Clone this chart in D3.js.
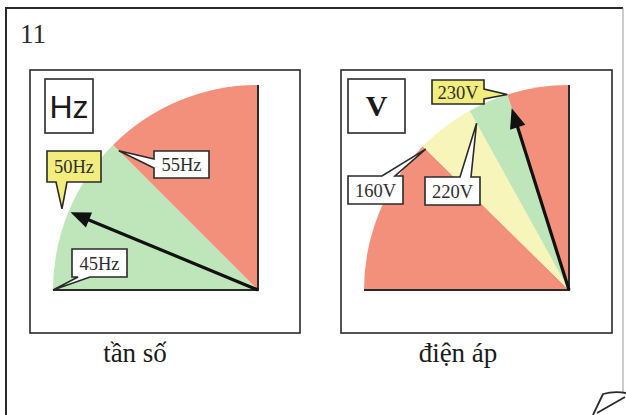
<!DOCTYPE html>
<html>
<head>
<meta charset="utf-8">
<script src="https://cdn.jsdelivr.net/npm/d3@7/dist/d3.min.js"></script>
<style>
  html, body { margin: 0; padding: 0; background: #fff; }
  svg { display: block; }
</style>
</head>
<body>
<svg id="chart" width="626" height="415"></svg>
<script>
// ---- data ----
const figureNumber = "11";

// frequency gauge (Hz)
const hzStops = [45, 55, 65];
const hzZones = ["normal", "high"];
const hzLabels = [45, 50, 55];
const hzNeedle = 50;
const hzUnit = "Hz";
const hzCaption = "tần số";

// voltage gauge (V)
const voltStops = [0, 160, 220, 230, 250];
const voltZones = ["high", "caution", "normal", "high"];
const voltLabels = [160, 220, 230];
const voltNeedle = 230;
const voltUnit = "V";
const voltCaption = "điện áp";

// ---- styles ----
const zoneColor = { normal: "#bfe6bb", high: "#f2907c", caution: "#f8f5ba" };
const ink = "#2a2a2a";
const calloutYellow = "#f3ed7d";
const serif = "'Liberation Serif', 'DejaVu Serif', serif";
const sans = "'Liberation Sans', Arial, sans-serif";

const svg = d3.select("#chart");
const deg = Math.PI / 180;

// outer page frame
svg.append("path")
  .attr("d", "M6,415 V8 H623")
  .attr("fill", "none").attr("stroke", ink).attr("stroke-width", 2);
svg.append("path")
  .attr("d", "M623,8 V392")
  .attr("fill", "none").attr("stroke", "#9a9a9a").attr("stroke-width", 1);
// curled page corner
svg.append("path")
  .attr("d", "M593,415 L603,394 Q614,391 626,393 M625,397 L597,413")
  .attr("fill", "none").attr("stroke", ink).attr("stroke-width", 1.8)
  .attr("stroke-linejoin", "round");

svg.append("text")
  .attr("x", 20).attr("y", 43)
  .attr("font-family", serif).attr("font-size", 27).attr("fill", ink)
  .text(figureNumber);

// callout: box with a pointed tail on one side
function calloutPath(b, side, base, tip) {
  const x = b.x, y = b.y, w = b.w, h = b.h;
  const [tx, ty] = tip;
  if (side === "bottom")
    return `M${x},${y}H${x + w}V${y + h}H${base[1]}L${tx},${ty}L${base[0]},${y + h}H${x}Z`;
  if (side === "top")
    return `M${x},${y}H${base[0]}L${tx},${ty}L${base[1]},${y}H${x + w}V${y + h}H${x}Z`;
  if (side === "left")
    return `M${x},${y}H${x + w}V${y + h}H${x}V${base[1]}L${tx},${ty}L${x},${base[0]}Z`;
  return `M${x},${y}H${x + w}V${base[0]}L${tx},${ty}L${x + w},${base[1]}V${y + h}H${x}Z`;
}

function drawGauge(cfg) {
  const g = svg.append("g");
  const { cx, cy, r } = cfg;

  // panel frame
  g.append("rect")
    .attr("x", cfg.panel.x).attr("y", cfg.panel.y)
    .attr("width", cfg.panel.w).attr("height", cfg.panel.h)
    .attr("fill", "#fff").attr("stroke", ink).attr("stroke-width", 1.6);

  const gauge = g.append("g").attr("transform", `translate(${cx},${cy})`);
  const arc = d3.arc().innerRadius(0).outerRadius(r);

  // zone sectors
  const zones = cfg.zones.map((z, i) => ({
    zone: z,
    startAngle: cfg.scale(cfg.stops[i]),
    endAngle: cfg.scale(cfg.stops[i + 1])
  }));
  gauge.selectAll("path.zone").data(zones).join("path")
    .attr("class", "zone")
    .attr("d", arc)
    .attr("fill", d => zoneColor[d.zone]);

  // quarter edges
  const a0 = cfg.scale(cfg.stops[0]);
  const a1 = cfg.scale(cfg.stops[cfg.stops.length - 1]);
  const p0 = d3.pointRadial(a0, r), p1 = d3.pointRadial(a1, r);
  gauge.append("path")
    .attr("d", `M${p0[0]},${p0[1]}L0,0L${p1[0]},${p1[1]}`)
    .attr("fill", "none").attr("stroke", ink).attr("stroke-width", 2);

  // needle
  const na = cfg.scale(cfg.needle);
  const len = r * cfg.needleLen;
  const head = 20, half = 8;
  const dir = d3.pointRadial(na, 1);
  const nx = [dir[1] * -1, dir[0]];
  const tip = [dir[0] * len, dir[1] * len];
  const baseC = [dir[0] * (len - head), dir[1] * (len - head)];
  gauge.append("line")
    .attr("x1", 0).attr("y1", 0)
    .attr("x2", baseC[0] + dir[0] * 4).attr("y2", baseC[1] + dir[1] * 4)
    .attr("stroke", "#111").attr("stroke-width", 3.2);
  gauge.append("path")
    .attr("d", `M${tip[0]},${tip[1]}L${baseC[0] + nx[0] * half},${baseC[1] + nx[1] * half}L${baseC[0] - nx[0] * half},${baseC[1] - nx[1] * half}Z`)
    .attr("fill", "#111");

  // value callouts
  cfg.labels.forEach((v, i) => {
    const c = cfg.callouts[i];
    const t = d3.pointRadial(cfg.scale(v), r * c.reach);
    const tipAbs = [cx + t[0], cy + t[1]];
    g.append("path")
      .attr("d", calloutPath(c.box, c.side, c.base, tipAbs))
      .attr("fill", c.fill || "#fff")
      .attr("stroke", ink).attr("stroke-width", 1.6)
      .attr("stroke-linejoin", "miter");
    g.append("text")
      .attr("x", c.box.x + c.box.w / 2)
      .attr("y", c.box.y + c.box.h / 2 + 6.5)
      .attr("text-anchor", "middle")
      .attr("font-family", serif).attr("font-size", 18.5).attr("fill", "#2e2e2e")
      .text(v + cfg.unit);
  });

  // unit box
  g.append("rect")
    .attr("x", cfg.unitBox.x).attr("y", cfg.unitBox.y)
    .attr("width", cfg.unitBox.w).attr("height", cfg.unitBox.h)
    .attr("fill", "#fff").attr("stroke", ink).attr("stroke-width", 1.6);
  g.append("text")
    .attr("x", cfg.unitBox.x + cfg.unitBox.w / 2)
    .attr("y", cfg.unitBox.y + cfg.unitBox.h / 2 + cfg.unitFont.dy)
    .attr("text-anchor", "middle")
    .attr("font-family", cfg.unitFont.family)
    .attr("font-size", cfg.unitFont.size)
    .attr("font-weight", cfg.unitFont.weight)
    .attr("fill", "#1a1a1a")
    .text(cfg.unit);

  // caption
  g.append("text")
    .attr("x", cfg.caption.x).attr("y", cfg.caption.y)
    .attr("text-anchor", "middle")
    .attr("font-family", serif).attr("font-size", 27).attr("fill", "#1a1a1a")
    .text(cfg.caption.text);
}

const hzScale = d3.scaleLinear()
  .domain([hzStops[0], hzStops[hzStops.length - 1]])
  .range([-90 * deg, 0]);

const voltScale = d3.scaleLinear()
  .domain(voltStops)
  .range([-90 * deg, -45.5 * deg, -29 * deg, -17.5 * deg, 0]);

drawGauge({
  panel: { x: 30, y: 70, w: 270, h: 263 },
  cx: 258, cy: 290, r: 205,
  scale: hzScale, stops: hzStops, zones: hzZones,
  needle: hzNeedle, needleLen: 0.99,
  unit: hzUnit,
  labels: hzLabels,
  callouts: [
    { box: { x: 72, y: 249, w: 55, h: 28 }, side: "bottom", base: [78, 90], reach: 1.0 },
    { box: { x: 47, y: 151, w: 54, h: 31 }, side: "bottom", base: [56, 67], reach: 1.035, fill: calloutYellow },
    { box: { x: 154, y: 151, w: 55, h: 27 }, side: "left", base: [159, 168], reach: 0.96 }
  ],
  unitBox: { x: 45, y: 79, w: 48, h: 54 },
  unitFont: { family: sans, size: 32, weight: 400, dy: 11.5 },
  caption: { x: 135, y: 362, text: hzCaption }
});

drawGauge({
  panel: { x: 341, y: 70, w: 271, h: 263 },
  cx: 569, cy: 290, r: 205,
  scale: voltScale, stops: voltStops, zones: voltZones,
  needle: voltNeedle, needleLen: 0.93,
  unit: voltUnit,
  labels: voltLabels,
  callouts: [
    { box: { x: 348, y: 176, w: 55, h: 28 }, side: "top", base: [382, 395], reach: 0.98 },
    { box: { x: 425, y: 177, w: 55, h: 28 }, side: "top", base: [460, 471], reach: 0.93 },
    { box: { x: 432, y: 80, w: 52, h: 24 }, side: "right", base: [89, 99], reach: 1.0, fill: calloutYellow }
  ],
  unitBox: { x: 348, y: 79, w: 57, h: 54 },
  unitFont: { family: serif, size: 30, weight: 700, dy: 10 },
  caption: { x: 458, y: 362, text: voltCaption }
});
</script>
</body>
</html>
